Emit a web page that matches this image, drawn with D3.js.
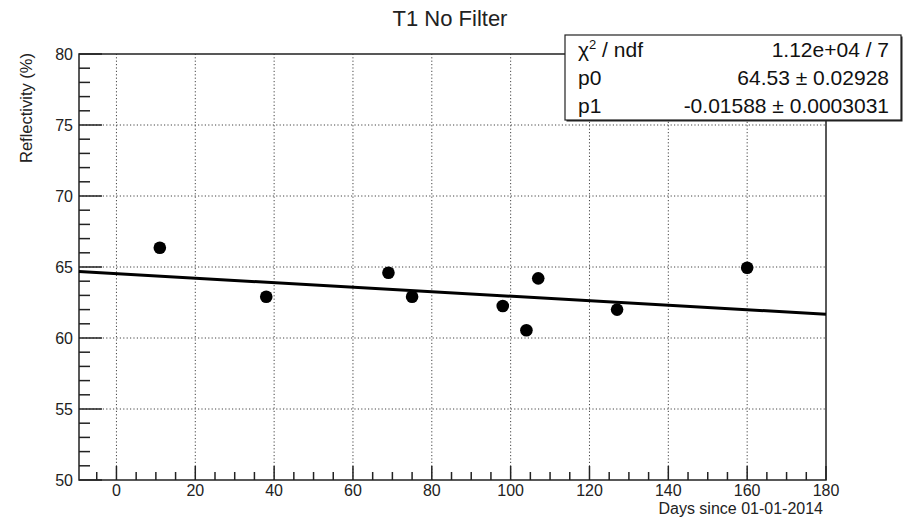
<!DOCTYPE html>
<html><head><meta charset="utf-8">
<script src="https://cdn.jsdelivr.net/npm/d3@7"></script>
<style>body{margin:0;background:#fff}svg{display:block;font-family:"Liberation Sans",Arial,sans-serif}</style>
</head><body><svg id="c" width="907" height="517"></svg>
<script>
const days = [11, 38, 69, 75, 98, 104, 107, 127, 160];
const reflectivity = [66.36, 62.9, 64.6, 62.9, 62.25, 60.55, 64.2, 62.0, 64.95];
const fitParams = {p0: 64.53, p1: -0.01588};
const xTicks = [0, 20, 40, 60, 80, 100, 120, 140, 160, 180];
const yTicks = [50, 55, 60, 65, 70, 75, 80];
const statLabels = ["χ² / ndf", "p0", "p1"];
const statValues = ["1.12e+04 / 7", "64.53 ± 0.02928", "-0.01588 ± 0.0003031"];
const xDomain = [-9.5, 180], yDomain = [50, 80];

const svg = d3.select("#c");
const m = {l: 79, r: 81, t: 54, b: 37};
const W = 907, H = 517;
const x = d3.scaleLinear().domain(xDomain).range([m.l, W - m.r]);
const y = d3.scaleLinear().domain(yDomain).range([H - m.b, m.t]);
const ink = "#222";

// grid
const g = svg.append("g");
g.selectAll(".gx").data(xTicks.filter(v => v > xDomain[0] && v < xDomain[1])).join("line")
  .attr("x1", d => x(d)).attr("x2", d => x(d)).attr("y1", y(yDomain[0])).attr("y2", y(yDomain[1]))
  .attr("stroke", "#444").attr("stroke-width", 1).attr("stroke-dasharray", "1.2,2.2");
g.selectAll(".gy").data(yTicks.filter(v => v > yDomain[0] && v < yDomain[1])).join("line")
  .attr("y1", d => y(d)).attr("y2", d => y(d)).attr("x1", x(xDomain[0])).attr("x2", x(xDomain[1]))
  .attr("stroke", "#444").attr("stroke-width", 1).attr("stroke-dasharray", "1.2,2.2");

// frame
svg.append("rect").attr("x", m.l).attr("y", m.t).attr("width", W - m.l - m.r).attr("height", H - m.t - m.b)
  .attr("fill", "none").attr("stroke", ink).attr("stroke-width", 1.5);

// x axis ticks
const xMinor = d3.range(-5, 181, 5);
const xa = svg.append("g");
xa.selectAll("line").data(xMinor.filter(v => v > xDomain[0])).join("line")
  .attr("x1", d => x(d)).attr("x2", d => x(d))
  .attr("y1", y(yDomain[0])).attr("y2", d => y(yDomain[0]) - (d % 20 === 0 ? 14 : 8))
  .attr("stroke", ink).attr("stroke-width", 1.5);
xa.selectAll("text").data(xTicks).join("text")
  .attr("x", d => x(d)).attr("y", y(yDomain[0]) + 15.5).attr("text-anchor", "middle")
  .attr("font-size", 16).attr("fill", ink).text(d => d);
svg.append("text").attr("x", 823).attr("y", 514).attr("text-anchor", "end")
  .attr("font-size", 16).attr("fill", ink).text("Days since 01-01-2014");

// y axis ticks
const yMinor = d3.range(50, 81, 1);
const ya = svg.append("g");
ya.selectAll("line").data(yMinor).join("line")
  .attr("y1", d => y(d)).attr("y2", d => y(d))
  .attr("x1", x(xDomain[0])).attr("x2", d => x(xDomain[0]) + (d % 5 === 0 ? 23 : 11))
  .attr("stroke", ink).attr("stroke-width", 1.5);
ya.selectAll("text").data(yTicks).join("text")
  .attr("x", m.l - 6).attr("y", d => y(d)).attr("dy", "0.35em").attr("text-anchor", "end")
  .attr("font-size", 16).attr("fill", ink).text(d => d);
svg.append("text").attr("transform", `translate(32,${m.t - 1}) rotate(-90)`).attr("text-anchor", "end")
  .attr("font-size", 16.5).attr("fill", ink).text("Reflectivity (%)");

// fit line
svg.append("line")
  .attr("x1", x(xDomain[0])).attr("y1", y(fitParams.p0 + fitParams.p1 * xDomain[0]))
  .attr("x2", x(xDomain[1])).attr("y2", y(fitParams.p0 + fitParams.p1 * xDomain[1]))
  .attr("stroke", "#000").attr("stroke-width", 3);

// points
svg.append("g").selectAll("circle").data(days.map((d, i) => [d, reflectivity[i]])).join("circle")
  .attr("cx", d => x(d[0])).attr("cy", d => y(d[1])).attr("r", 6.3).attr("fill", "#000");

// title
svg.append("text").attr("x", 450).attr("y", 26).attr("text-anchor", "middle")
  .attr("font-size", 22).attr("fill", ink).text("T1 No Filter");

// stats box
const bx = 565, by = 35, bw = 336, bh = 85;
svg.append("rect").attr("x", bx + 1.5).attr("y", by + 1.5).attr("width", bw).attr("height", bh).attr("fill", ink);
svg.append("rect").attr("x", bx).attr("y", by).attr("width", bw).attr("height", bh)
  .attr("fill", "#fff").attr("stroke", ink).attr("stroke-width", 1.2);
const rows = svg.append("g");
statLabels.forEach((s, i) => {
  const yy = by + 22 + i * 28;
  const t = rows.append("text").attr("x", bx + 13).attr("y", yy).attr("font-size", 21).attr("fill", "#111");
  if (i === 0) {
    t.append("tspan").text("χ");
    t.append("tspan").attr("font-size", 13).attr("dy", -8).text("2");
    t.append("tspan").attr("dy", 8).text(" / ndf");
  } else t.text(s);
  rows.append("text").attr("x", bx + bw - 12).attr("y", yy).attr("text-anchor", "end")
    .attr("font-size", 21).attr("fill", "#111").text(statValues[i]);
});
</script></body></html>
